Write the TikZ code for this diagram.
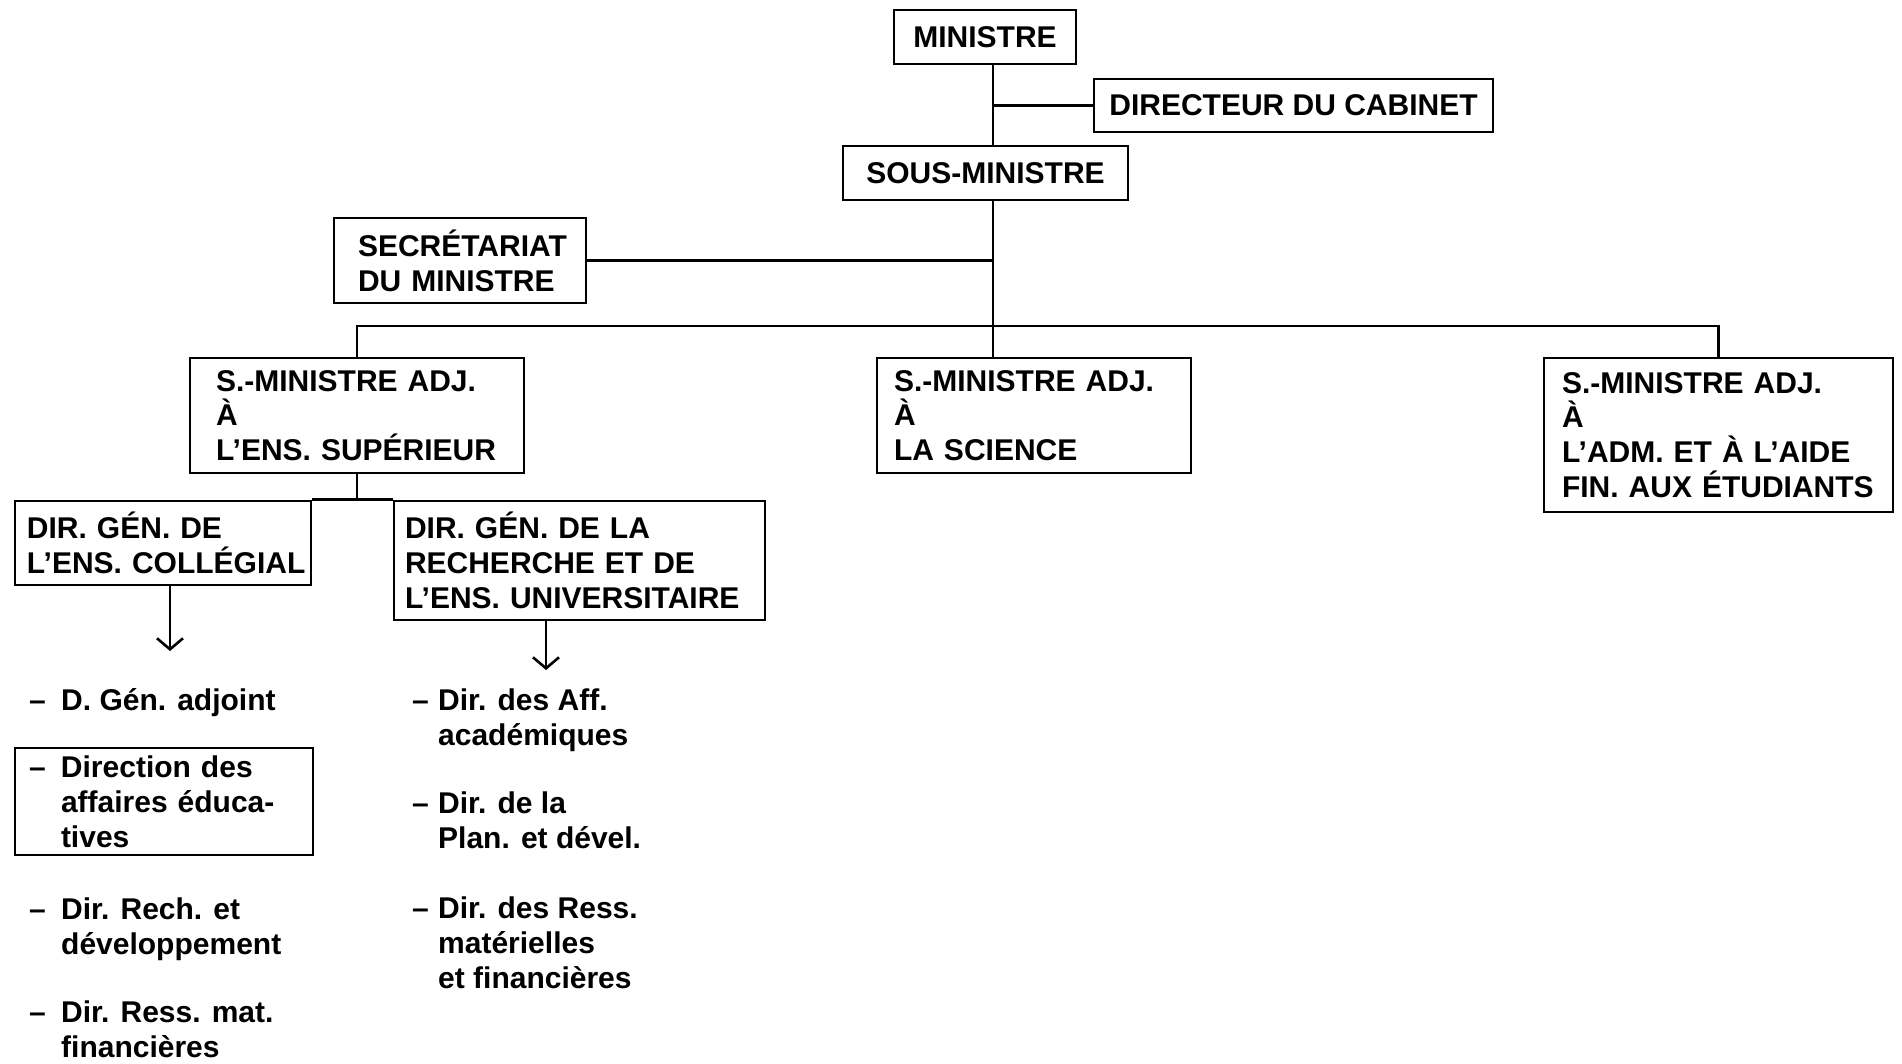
\documentclass[tikz,border=0pt]{standalone}
\usepackage{fontspec}
\setmainfont{Liberation Sans}
\usetikzlibrary{arrows.meta}
\hyphenpenalty=10000
\exhyphenpenalty=10000
\hbadness=10000
\hfuzz=200pt
\begin{document}
\begin{tikzpicture}[x=1pt,y=-1pt,
  every node/.style={font=\fontsize{30}{34.8}\selectfont\bfseries},
  box/.style={draw, line width=2.6pt, inner ysep=0pt, align=left},
  ln/.style={line width=2.6pt},
  arr/.style={line width=2.6pt, -{Straight Barb[length=11pt,width=26pt,line width=2.6pt]}},
  item/.style={inner sep=0pt, anchor=base west, align=left}]
\useasboundingbox (0,0) rectangle (1902,1063);
% top boxes
\node[box, minimum width=182pt, minimum height=54pt] (min) at (985,37) {MINISTRE};
\node[box, minimum width=399pt, minimum height=53pt] (dir) at (1293.5,105.5) {DIRECTEUR DU CABINET};
\node[box, minimum width=285pt, minimum height=54pt] (sous) at (985.5,173) {SOUS-MINISTRE};
\node[box, text width=204pt, inner xsep=24pt, minimum height=85pt] (sec) at (460,260.5) {SECRÉTARIAT\\DU~MINISTRE};
% sous-ministres adjoints
\node[box, text width=282pt, inner xsep=26pt, minimum height=115pt] (s1) at (357,415.5) {S.-MINISTRE~ADJ.\\À\\L'ENS.~SUPÉRIEUR};
\node[box, text width=280pt, inner xsep=17pt, minimum height=115pt] (s2) at (1034,415.5) {S.-MINISTRE~ADJ.\\À\\LA~SCIENCE};
\node[box, text width=313pt, inner xsep=18pt, minimum height=154pt] (s3) at (1718.5,435) {S.-MINISTRE~ADJ.\\À\\L'ADM.~ET~À~L'AIDE\\FIN.~AUX~ÉTUDIANTS};
% directions generales
\node[box, text width=272pt, inner xsep=12pt, minimum height=84pt] (dc) at (163,543) {DIR.~GÉN.~DE\\L'ENS.~COLLÉGIAL};
\node[box, text width=349pt, inner xsep=11pt, minimum height=119pt] (dr) at (579.5,560.5) {DIR.~GÉN.~DE~LA\\RECHERCHE~ET~DE\\L'ENS.~UNIVERSITAIRE};
% connectors
\coordinate (sp) at (993,0);
\coordinate (bar) at (993,326);
\draw[ln] (sp |- min.south) -- (sp |- sous.north);
\draw[ln] (sp |- dir.west) -- (dir.west);
\draw[ln] (sp |- sous.south) -- (sp |- s2.north);
\draw[ln] (sec.east) -- (sp |- sec.east);
\draw[ln] (s1.north) |- (bar) -| (s3.north);
\draw[ln] (s1.south) -- (s1.south |- dc.north);
\draw[ln] (dc.north east) -- (dr.north west);
\coordinate (a1e) at (170,651);
\coordinate (a2e) at (546,670);
\draw[arr] (a1e |- dc.south) -- (a1e);
\draw[arr] (a2e |- dr.south) -- (a2e);
% left list (anchors at baseline of last line)
\node[item] (l1) at (29,710) {\makebox[32pt][l]{–}D. Gén. adjoint};
\node[box, text width=270pt, inner xsep=14pt, minimum width=298pt, minimum height=107pt] (l2) at (164,801.5) {\makebox[32pt][l]{–}Direction des\\\hspace*{32pt}affaires éduca-\\\hspace*{32pt}tives};
\node[item] (l3) at (29,954) {\makebox[32pt][l]{–}Dir. Rech. et\\\hspace*{32pt}développement};
\node[item] (l4) at (29,1057) {\makebox[32pt][l]{–}Dir. Ress. mat.\\\hspace*{32pt}financières};
% right list
\node[item] (r1) at (412,745) {\makebox[26pt][l]{–}Dir. des Aff.\\\hspace*{26pt}académiques};
\node[item] (r2) at (412,848) {\makebox[26pt][l]{–}Dir. de la\\\hspace*{26pt}Plan. et dével.};
\node[item] (r3) at (412,988) {\makebox[26pt][l]{–}Dir. des Ress.\\\hspace*{26pt}matérielles\\\hspace*{26pt}et financières};
\end{tikzpicture}
\end{document}
